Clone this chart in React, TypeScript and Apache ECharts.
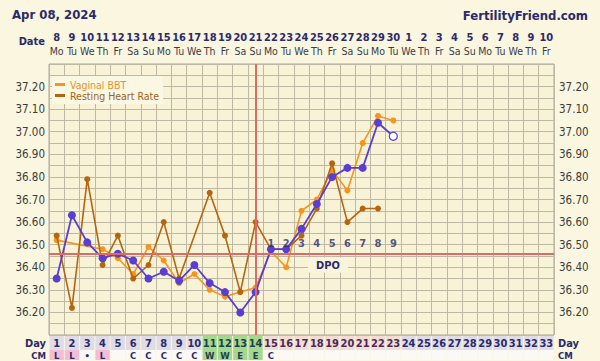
import React, { useEffect, useRef } from "react";
import * as echarts from "echarts";

const days = ["1","2","3","4","5","6","7","8","9","10","11","12","13","14","15","16","17","18","19","20","21","22","23","24","25","26","27","28","29","30","31","32","33"];
const dates = ["8","9","10","11","12","13","14","15","16","17","18","19","20","21","22","23","24","25","26","27","28","29","30","1","2","3","4","5","6","7","8","9","10"];
const weekdays = ["Mo","Tu","We","Th","Fr","Sa","Su","Mo","Tu","We","Th","Fr","Sa","Su","Mo","Tu","We","Th","Fr","Sa","Su","Mo","Tu","We","Th","Fr","Sa","Su","Mo","Tu","We","Th","Fr"];
const cervicalMucus = ["L","L","•","L","","C","C","C","C","C","W","W","E","E","C","","","","","","","","","","","","","","","","","",""];

const bbt: (number | null)[] = [36.35,36.63,36.51,36.44,36.46,36.43,36.35,36.38,36.34,36.41,36.33,36.29,36.20,36.29,36.48,36.48,36.57,36.68,36.80,36.84,36.84,37.04,36.98];
const vaginalBbt: (number | null)[] = [36.52,null,null,36.48,36.44,36.37,36.49,36.43,36.33,36.37,36.30,36.27,36.29,36.31,36.47,36.40,36.65,36.70,36.83,36.74,36.95,37.07,37.05];
const restingHeartRate: (number | null)[] = [36.54,36.22,36.79,36.41,36.54,36.35,36.41,36.60,36.35,null,36.73,36.54,36.29,36.60,36.48,36.48,36.54,36.66,36.86,36.60,36.66,36.66];
const dpo: (number | null)[] = [null,null,null,null,null,null,null,null,null,null,null,null,null,null,1,2,3,4,5,6,7,8,9];
const hollowBbtDays = [23];
const coverLine = 36.46;
const ovulationDay = 14;
const fertileDays = [11, 12, 13, 14];
const lutealDays = [15, 16, 17, 18, 19, 20, 21, 22, 23];

const NAVY = "#2b2a6b";
const FONT = "'DejaVu Sans Condensed', 'Liberation Sans', sans-serif";
const PURPLE = "#5a3ed4";
const ORANGE = "#f7941d";
const BROWN = "#b5650f";
const RED = "#dc6b66";
const BG = "#faf6df";

export default function App() {
  const ref = useRef<HTMLDivElement>(null);
  useEffect(() => {
    document.body.style.margin = "0";
    const chart = echarts.init(ref.current!, null, { renderer: "svg" });
    const gridLine = { show: true, lineStyle: { color: "#bdb9a5", width: 1 } };
    const cell = (bg: string, color = NAVY, size = 11, h = 14) => ({
      backgroundColor: bg,
      color,
      fontWeight: "bold" as const,
      fontSize: size,
      fontFamily: FONT,
      width: 14.3,
      height: h,
      lineHeight: h,
      align: "center" as const,
    });
    const cmStyle = (v: string, i: number) => {
      if (fertileDays.includes(i + 1)) return "g";
      if (v === "L") return "l";
      return "e";
    };
    const yFmt = (v: number) => {
      const c = Math.round(v * 100);
      if (c % 10 !== 0 || c < 3620 || c > 3720) return "";
      return v.toFixed(2);
    };
    const dpoData: any[] = [];
    dpo.forEach((d, i) => {
      if (d != null) dpoData.push({ value: [i, 36.505], dpo: d });
    });
    chart.setOption({
      animation: false,
      backgroundColor: BG,
      textStyle: { fontFamily: FONT },
      grid: {
        left: 49, right: 46, top: 64, bottom: 26,
        show: true, backgroundColor: "#f8f3d6", borderColor: "#a9a594", borderWidth: 1,
      },
      legend: {
        left: 52, top: 76, orient: "vertical",
        backgroundColor: "#faf7e3",
        padding: [3, 4, 3, 3],
        itemWidth: 10, itemHeight: 3, itemGap: 0,
        icon: "rect",
        textStyle: { fontSize: 10.5, lineHeight: 11, fontFamily: FONT },
        data: [
          { name: "Vaginal BBT", textStyle: { color: "#e8912a" } },
          { name: "Resting Heart Rate", textStyle: { color: "#a0621a" } },
        ],
      },
      xAxis: [
        {
          type: "category", data: days, position: "bottom", boundaryGap: true,
          axisLine: { show: false }, axisTick: { show: false },
          splitLine: { ...gridLine, interval: 0 },
          axisLabel: {
            interval: 0, margin: 1,
            formatter: (v: string) => {
              const d = Number(v);
              const k = fertileDays.includes(d) ? "g" : lutealDays.includes(d) ? "p" : "a";
              return `{${k}|${v}}`;
            },
            rich: { a: cell("#dfdce6"), g: cell("#a3d88d", "#1f3f4f"), p: cell("#f3ddd3", "#4a2a5a") },
          },
        },
        {
          type: "category", data: days, position: "bottom", offset: 14, boundaryGap: true,
          axisLine: { show: false }, axisTick: { show: false },
          axisLabel: {
            interval: 0, margin: 1,
            formatter: (_v: string, i: number) => `{${cmStyle(cervicalMucus[i], i)}|${cervicalMucus[i] || "\u00a0"}}`,
            rich: {
              l: cell("#f5bcd6", NAVY, 9.5, 10),
              g: cell("#a3d88d", "#1f3f4f", 9.5, 10),
              e: cell("#faf9f6", NAVY, 9.5, 10),
            },
          },
        },
        {
          type: "category", data: days, position: "top", boundaryGap: true,
          axisLine: { show: false }, axisTick: { show: false },
          axisLabel: {
            interval: 0, margin: 6,
            formatter: (_v: string, i: number) => `{d|${dates[i]}}\n{w|${weekdays[i]}}`,
            rich: {
              d: { fontWeight: "bold", fontSize: 11, color: NAVY, lineHeight: 14, fontFamily: FONT, align: "center" },
              w: { fontSize: 10.5, color: "#3c3c48", lineHeight: 14, fontFamily: FONT, align: "center" },
            },
          },
        },
      ],
      yAxis: [
        {
          type: "value", min: 36.1, max: 37.3, interval: 0.05, position: "left",
          axisLine: { show: false }, axisTick: { show: false },
          splitLine: gridLine,
          axisLabel: { formatter: yFmt, color: "#3c3c3c", fontSize: 11.5, margin: 4, fontFamily: FONT },
        },
        {
          type: "value", min: 36.1, max: 37.3, interval: 0.05, position: "right",
          axisLine: { show: false }, axisTick: { show: false }, splitLine: { show: false },
          axisLabel: { formatter: yFmt, color: "#3c3c3c", fontSize: 11.5, margin: 5, fontFamily: FONT },
        },
      ],
      series: [
        {
          name: "Vaginal BBT", type: "line", data: vaginalBbt, connectNulls: true,
          symbol: "circle", symbolSize: 6, color: ORANGE,
          lineStyle: { width: 1.6, color: ORANGE }, itemStyle: { color: ORANGE }, z: 2,
          markLine: {
            silent: true, symbol: "none", label: { show: false },
            lineStyle: { color: RED, width: 2, type: "solid" },
            data: [{ yAxis: coverLine }, { xAxis: ovulationDay - 1 }],
          },
        },
        {
          name: "Resting Heart Rate", type: "line", data: restingHeartRate, connectNulls: true,
          symbol: "circle", symbolSize: 6, color: BROWN,
          lineStyle: { width: 1.6, color: BROWN }, itemStyle: { color: BROWN }, z: 3,
        },
        {
          name: "BBT", type: "line", connectNulls: true,
          data: bbt.map((v, i) =>
            hollowBbtDays.includes(i + 1)
              ? { value: v, itemStyle: { color: "#ffffff", borderColor: PURPLE, borderWidth: 1.2 } }
              : v
          ),
          symbol: "circle", symbolSize: 8, color: PURPLE,
          lineStyle: { width: 1.8, color: PURPLE }, itemStyle: { color: PURPLE }, z: 4,
        },
        {
          name: "DPO", type: "scatter", symbolSize: 1, itemStyle: { color: "rgba(0,0,0,0)" }, z: 5,
          data: dpoData,
          label: {
            show: true, position: "inside",
            formatter: (p: any) => String(p.data.dpo),
            color: NAVY, fontWeight: "bold", fontSize: 11, fontFamily: FONT,
          },
        },
      ],
      graphic: [
        { type: "text", left: 12, top: 8, style: { text: "Apr 08, 2024", font: `bold 13px ${FONT}`, fill: NAVY } },
        { type: "text", right: 12, top: 9, style: { text: "FertilityFriend.com", font: `bold 13px ${FONT}`, fill: NAVY } },
        { type: "text", x: 45, y: 41, style: { text: "Date", font: `bold 11px ${FONT}`, fill: NAVY, align: "right", verticalAlign: "middle" } },
        { type: "text", x: 46, y: 343, style: { text: "Day", font: `bold 11px ${FONT}`, fill: NAVY, align: "right", verticalAlign: "middle" } },
        { type: "text", x: 558, y: 343, style: { text: "Day", font: `bold 11px ${FONT}`, fill: NAVY, align: "left", verticalAlign: "middle" } },
        { type: "text", x: 46, y: 355, style: { text: "CM", font: `bold 9.5px ${FONT}`, fill: NAVY, align: "right", verticalAlign: "middle" } },
        { type: "text", x: 558, y: 355, style: { text: "CM", font: `bold 9.5px ${FONT}`, fill: NAVY, align: "left", verticalAlign: "middle" } },
        {
          type: "text", x: 328, y: 265, z: 10,
          style: { text: "DPO", font: `bold 11px ${FONT}`, fill: NAVY, align: "center", verticalAlign: "middle", backgroundColor: "#f9f5dc", padding: [2, 8] },
        },
      ],
    });
    return () => chart.dispose();
  }, []);
  return <div ref={ref} style={{ width: 600, height: 361 }} />;
}
